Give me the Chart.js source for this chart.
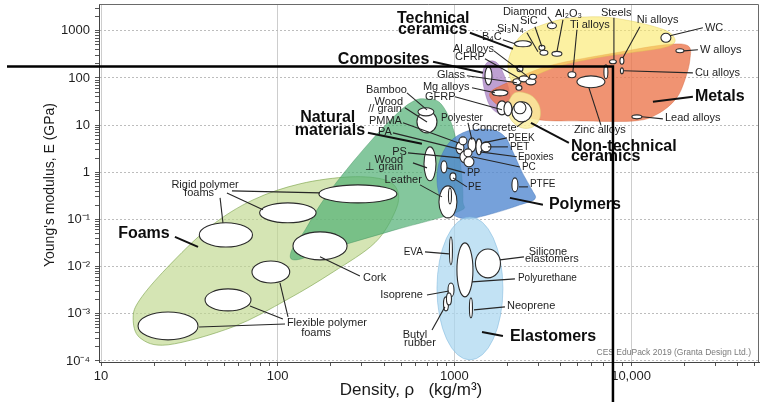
<!DOCTYPE html>
<html>
<head>
<meta charset="utf-8">
<title>Young's modulus - density chart</title>
<script src="https://cdn.jsdelivr.net/npm/chart.js@4.4.1/dist/chart.umd.min.js"></script>
<style>
  html, body { margin: 0; padding: 0; background: #fff; }
  #wrap { position: relative; width: 776px; height: 402px; }
</style>
</head>
<body>
<div id="wrap"><canvas id="chart"></canvas></div>
<script>
// axis ranges and tick labels
const xMin = 9.74, xMax = 53000;        // density, kg/m3
const yMin = 9.5e-5, yMax = 3700;       // Young's modulus, GPa
const xTickValues = [10, 100, 1000, 10000];
const xTickLabels = ['10', '100', '1000', '10,000'];
const yTickValues = [1e-4, 1e-3, 1e-2, 1e-1, 1, 10, 100, 1000];
const yTickLabels = ['10⁻⁴', '10⁻³', '10⁻²', '10⁻¹', '1', '10', '100', '1000'];

// family envelopes, outline points [density, modulus]
const foamsEnvelope = [[15.2, 8.2e-4], [16.6, 3.1e-4], [24, 2.2e-4], [56, 5.3e-4], [113, 2.0e-3], [206, 7.7e-3],
  [355, 0.032], [461, 0.145], [479, 0.385], [405, 0.69], [257, 0.8], [134, 0.57], [72.5, 0.26], [41.4, 0.07],
  [23.6, 9.4e-3], [16.6, 2.0e-3]];
const naturalEnvelope = [[682, 36], [829, 29.7], [969, 10.1], [1075, 1.84], [1118, 0.26], [1048, 0.145], [461, 0.06],
  [198, 0.0237], [127, 0.0139], [119, 0.0205], [143, 0.06], [174, 0.204], [225, 0.76], [333, 4.4], [479, 18.2], [591, 32.7]];
const polymersEnvelope = [[1194, 7.56], [1632, 7.94], [1933, 5.64], [2145, 2.71], [2413, 1.02], [2748, 0.424],
  [2858, 0.273], [2350, 0.204], [1697, 0.138], [1194, 0.103], [969, 0.131], [840, 0.26], [797, 0.69], [829, 1.84], [944, 4.42]];
const elastomersRange = [797, 1883, 1.05e-4, 0.113];
const compositesEnvelope = [[1549, 220], [1742, 210], [1908, 117], [2063, 44], [2010, 21], [1811, 17.4], [1590, 25.6],
  [1470, 62], [1451, 135]];
const metalsEnvelope = [[1590, 48], [1933, 75], [3430, 181], [8210, 342], [15550, 505], [20980, 481], [21540, 243],
  [20170, 91], [17950, 36], [14200, 17.4], [10520, 12.3], [5136, 12.3], [3050, 12.9], [2063, 19.1], [1697, 29.7]];
const techCeramicsEnvelope = [[2010, 164], [2117, 395], [2413, 823], [3050, 1277], [4225, 1797], [6665, 1982],
  [9854, 1630], [13650, 1216], [16600, 907], [17710, 585], [15150, 436], [9854, 342], [6410, 268], [3958, 181],
  [2678, 101], [2202, 72]];
const nonTechCeramicsEnvelope = [[2202, 48.4], [2678, 43.9], [3010, 26.9], [3050, 14.3], [2784, 9.2], [2413, 8.75],
  [2117, 12.3], [1985, 23.3]];

// materials: [name, density low, density high, modulus low, modulus high]
const foamMaterials = [
  ['Rigid polymer foam', 36, 72, 0.026, 0.085],
  ['Rigid polymer foam', 79, 165, 0.085, 0.225],
  ['Rigid polymer foam', 171, 473, 0.225, 0.54],
  ['Cork', 122, 247, 0.0139, 0.0545],
  ['Flexible polymer foam', 71.5, 117, 0.0045, 0.0132],
  ['Flexible polymer foam', 38.8, 70.6, 0.00115, 0.00337],
  ['Flexible polymer foam', 16.2, 35.4, 2.8e-4, 1.09e-3]
];
const naturalMaterials = [
  ['Wood // grain', 614, 797, 6.86, 20.1],
  ['Bamboo', 622, 766, 15.7, 23.3],
  ['Wood ⊥ grain', 673, 787, 0.66, 3.46],
  ['Leather', 818, 1034, 0.108, 0.515],
  ['Leather', 926, 963, 0.214, 0.467]
];
const polymerMaterials = [
  ['PMMA', 1021, 1133, 2.46, 4.42],
  ['PA', 1075, 1225, 1.59, 2.85],
  ['PS', 1133, 1291, 1.30, 2.13],
  ['Polyester', 1194, 1325, 2.71, 5.37],
  ['PEEK', 1325, 1433, 2.34, 5.12],
  ['PET', 1414, 1611, 2.71, 4.42],
  ['Epoxies', 1062, 1178, 3.82, 5.64],
  ['PC', 1133, 1258, 2.13, 3.14],
  ['PP', 840, 908, 0.97, 1.75],
  ['PE', 944, 1021, 0.66, 0.97],
  ['PTFE', 2117, 2289, 0.385, 0.76]
];
const elastomerMaterials = [
  ['EVA', 938, 975, 0.0109, 0.0427],
  ['Polyurethane', 1034, 1274, 0.00228, 0.0318],
  ['Silicone elastomers', 1316, 1823, 0.00576, 0.0237],
  ['Isoprene', 920, 995, 0.00228, 0.00451],
  ['Butyl rubber', 868, 926, 0.00115, 0.00228],
  ['Butyl rubber', 902, 963, 0.00154, 0.00277],
  ['Neoprene', 1217, 1266, 8.2e-4, 0.00217]
];
const ceramicMetalMaterials = [
  ['Glass', 1490, 1632, 71.5, 172],
  ['Al alloys', 2145, 2382, 71.5, 95.9],
  ['CFRP', 2320, 2642, 82.8, 111],
  ['Al alloys', 2542, 2895, 71.5, 95.9],
  ['CFRP', 2660, 2914, 93.6, 119.5],
  ['Al alloys', 2231, 2413, 54.7, 69.8],
  ['CFRP', 2260, 2445, 135, 181],
  ['Mg alloys', 1632, 2010, 41.8, 56],
  ['GFRP', 1742, 1985, 16.5, 32.7],
  ['GFRP', 1908, 2117, 15.7, 31.2],
  ['Concrete', 2117, 2748, 11.7, 31.2],
  ['Concrete', 2174, 2542, 17.4, 31.2],
  ['B4C', 2188, 2731, 458, 614],
  ['SiC', 3010, 3255, 386, 493],
  ['Si3N4', 3050, 3385, 302, 386],
  ['Diamond', 3363, 3782, 1103, 1478],
  ['Al2O3', 3565, 4062, 288, 367],
  ['Ti alloys', 4393, 4875, 101, 135],
  ['Zinc alloys', 4940, 7114, 61.8, 111],
  ['Steels', 7022, 7397, 95.9, 190],
  ['Steels', 7543, 8265, 200, 243],
  ['Ni alloys', 8650, 9114, 195, 274],
  ['Cu alloys', 8708, 9056, 122, 164],
  ['WC', 14760, 16810, 570, 885],
  ['W alloys', 17950, 19920, 342, 415],
  ['Lead alloys', 10110, 11520, 13.6, 16.5]
];

// labels: [text, density, modulus, align]
const familyLabels = [
  ['Technical', 473, 1800, 'left'], ['ceramics', 479, 1050, 'left'],
  ['Composites', 219, 243, 'left'],
  ['Natural', 134, 14.3, 'left'], ['materials', 125, 7.56, 'left'],
  ['Foams', 12.5, 0.0494, 'left'],
  ['Polymers', 3430, 0.204, 'left'],
  ['Elastomers', 2063, 3.23e-4, 'left'],
  ['Metals', 22980, 39.8, 'left'],
  ['Non-technical', 4567, 3.46, 'left'], ['ceramics', 4567, 2.13, 'left']
];
const materialLabels = [
  ['Rigid polymer', 38.8, 0.541, 'center'], ['foams', 35.9, 0.366, 'center'],
  ['Cork', 304, 0.00576, 'left'],
  ['Flexible polymer', 190, 6.39e-4, 'center'], ['foams', 165, 3.92e-4, 'center'],
  ['Bamboo', 316, 56, 'left'],
  ['Wood', 512, 31.2, 'right'], ['// grain', 505, 22.2, 'right'],
  ['PMMA', 505, 12.3, 'right'], ['PA', 443, 7.2, 'right'], ['PS', 539, 2.71, 'right'],
  ['Wood', 512, 1.84, 'right'], ['⊥ grain', 512, 1.30, 'right'],
  ['Leather', 655, 0.69, 'right'],
  ['Concrete', 1258, 8.75, 'left'],
  ['Silicone', 3385, 0.0205, 'center'], ['elastomers', 3565, 0.0146, 'center'],
  ['Isoprene', 664, 0.00251, 'right'], ['Neoprene', 1985, 0.00147, 'left'],
  ['Butyl', 598, 3.56e-4, 'center'], ['rubber', 639, 2.41e-4, 'center'],
  ['Diamond', 1883, 2530, 'left'], ['SiC', 2350, 1630, 'left'], ['Si₃N₄', 1742, 1100, 'left'],
  ['B₄C', 1433, 746, 'left'], ['Al₂O₃', 3708, 2290, 'left'], ['Ti alloys', 4508, 1341, 'left'],
  ['Al alloys', 982, 415, 'left'], ['CFRP', 1008, 281, 'left'], ['Glass', 797, 117, 'left'],
  ['Mg alloys', 664, 64.9, 'left'], ['GFRP', 682, 39.8, 'left'],
  ['Steels', 6750, 2410, 'left'], ['Ni alloys', 10790, 1711, 'left'], ['WC', 26180, 1158, 'left'],
  ['W alloys', 24530, 395, 'left'], ['Cu alloys', 22980, 128.5, 'left'],
  ['Lead alloys', 15550, 14.3, 'left'], ['Zinc alloys', 4749, 7.94, 'left']
];
const polymerLabels = [
  ['Polyester', 1104, 14.3, 'center'], ['PEEK', 2010, 5.37, 'left'], ['PET', 2063, 3.46, 'left'],
  ['Epoxies', 2289, 2.13, 'left'], ['PC', 2413, 1.30, 'left'], ['PP', 1178, 0.97, 'left'],
  ['PE', 1194, 0.49, 'left'], ['PTFE', 2678, 0.568, 'left'], ['EVA', 664, 0.0205, 'right'],
  ['Polyurethane', 2289, 0.00576, 'left']
];

// leader lines: [density 1, modulus 1, density 2, modulus 2]
const familyLeaders = [
  [26.2, 0.0427, 35.4, 0.0262], [324, 6.86, 655, 4.01], [2063, 0.287, 3172, 0.204],
  [1433, 4.12e-4, 1883, 3.39e-4], [1225, 907, 2145, 415], [757, 220, 1451, 128.5],
  [22390, 39.8, 13300, 31.2], [4450, 4.21, 2713, 11.2]
];
const materialLeaders = [
  [55.1, 0.404, 173.5, 0.366], [51.6, 0.366, 82.6, 0.16], [47.2, 0.287, 49.0, 0.0846],
  [173.5, 0.0161, 292, 0.00635], [114.4, 8.57e-4, 103, 4.51e-3], [107, 7.77e-4, 69.7, 1.47e-3],
  [110, 6.09e-4, 35.9, 5.26e-4],
  [539, 48.4, 700, 21.1], [525, 23.3, 700, 11.7], [512, 11.2, 1048, 4.21], [449, 6.86, 1104, 2.99],
  [546, 2.58, 1075, 2.02], [583, 1.585, 700, 1.24], [639, 0.541, 850, 0.301],
  [1194, 11.2, 1258, 4.87], [2260, 9.19, 2508, 12.3], [1985, 5.37, 1451, 4.21], [2010, 3.46, 1549, 3.46],
  [2260, 2.13, 1396, 2.71], [2350, 1.30, 1258, 2.13], [1148, 0.972, 908, 1.24], [1178, 0.491, 982, 0.762],
  [2609, 0.491, 2320, 0.491],
  [682, 0.0205, 932, 0.0186], [2476, 0.0161, 1811, 0.0139], [2202, 0.00549, 1258, 0.00474],
  [700, 0.00251, 932, 0.00305], [1933, 0.0014, 1291, 0.00121], [747, 4.54e-4, 884, 0.0014],
  [3385, 1982, 3613, 1408], [2858, 1216, 3131, 458], [2575, 907, 2972, 358], [1883, 644, 2202, 530],
  [4117, 1711, 3806, 358], [4940, 1050, 4688, 135], [1675, 376, 2575, 111], [1490, 255, 2350, 95.9],
  [1178, 111, 2260, 78.9], [1258, 61.8, 1697, 48.4], [1008, 39.8, 1859, 21.1],
  [8000, 1887, 8000, 243], [11230, 1216, 8995, 268], [25510, 1158, 16600, 783], [23900, 395, 19920, 376],
  [22390, 128.5, 9114, 141.8], [15150, 13.6, 11520, 15], [6750, 10.1, 5776, 61.8]
];

// hand-drawn marker lines on top of the chart
const markerDensity = 7900;
const markerModulus = 175;

Chart.defaults.font.family = '"Liberation Sans", Arial, Helvetica, sans-serif';

const isDecade = v => Math.abs(Math.log10(v) - Math.round(Math.log10(v))) < 1e-9;

function logTickList(lo, hi) {
  const ticks = [];
  for (let e = Math.floor(Math.log10(lo)); e <= Math.ceil(Math.log10(hi)); e++) {
    for (let m = 1; m < 10; m++) {
      const v = Number(m + 'e' + e);
      if (v >= lo && v <= hi) ticks.push({ value: v, major: m === 1 });
    }
  }
  return ticks;
}

function tickLabel(values, labels, v) {
  const i = values.findIndex(t => Math.abs(t / v - 1) < 1e-6);
  return i < 0 ? '' : labels[i];
}

// closed smooth curve through the outline points (Catmull-Rom)
function tracePath(ctx, pts) {
  const n = pts.length;
  ctx.moveTo(pts[0][0], pts[0][1]);
  for (let i = 0; i < n; i++) {
    const p0 = pts[(i - 1 + n) % n], p1 = pts[i], p2 = pts[(i + 1) % n], p3 = pts[(i + 2) % n];
    ctx.bezierCurveTo(
      p1[0] + (p2[0] - p0[0]) / 6, p1[1] + (p2[1] - p0[1]) / 6,
      p2[0] - (p3[0] - p1[0]) / 6, p2[1] - (p3[1] - p1[1]) / 6,
      p2[0], p2[1]);
  }
  ctx.closePath();
}

function rangeEllipse(ctx, x, y, r) {
  const x1 = x.getPixelForValue(r[0]), x2 = x.getPixelForValue(r[1]);
  const y1 = y.getPixelForValue(r[2]), y2 = y.getPixelForValue(r[3]);
  ctx.ellipse((x1 + x2) / 2, (y1 + y2) / 2, Math.abs(x2 - x1) / 2, Math.abs(y2 - y1) / 2, 0, 0, Math.PI * 2);
}

const envelopeLayers = [
  { pts: foamsEnvelope, fill: 'rgba(190,215,140,0.65)', edge: 'rgba(120,160,70,0.6)' },
  { pts: naturalEnvelope, fill: 'rgba(80,175,115,0.7)', edge: 'rgba(60,140,90,0.4)' },
  { pts: polymersEnvelope, fill: 'rgba(80,135,208,0.78)', edge: 'rgba(60,110,180,0.4)' },
  { range: elastomersRange, fill: 'rgba(170,215,240,0.72)', edge: 'rgba(120,180,220,0.5)' },
  { pts: compositesEnvelope, fill: 'rgba(174,136,199,0.8)', edge: 'rgba(140,100,170,0.4)' },
  { pts: metalsEnvelope, fill: 'rgba(236,117,74,0.78)', edge: 'rgba(210,100,60,0.4)' },
  { pts: techCeramicsEnvelope, fill: 'rgba(250,232,100,0.6)', edge: 'rgba(220,200,80,0.4)' },
  { pts: nonTechCeramicsEnvelope, fill: 'rgba(250,238,160,0.85)', edge: 'rgba(220,205,110,0.5)' }
];

const ashbyLayer = {
  id: 'ashbyLayer',
  beforeDatasetsDraw(chart) {
    const { ctx, chartArea: a, scales: { x, y } } = chart;
    const px = v => x.getPixelForValue(v), py = v => y.getPixelForValue(v);
    ctx.save();
    ctx.beginPath();
    ctx.rect(a.left, a.top, a.right - a.left, a.bottom - a.top);
    ctx.clip();

    envelopeLayers.forEach(layer => {
      ctx.beginPath();
      if (layer.range) rangeEllipse(ctx, x, y, layer.range);
      else tracePath(ctx, layer.pts.map(p => [px(p[0]), py(p[1])]));
      ctx.fillStyle = layer.fill;
      ctx.fill();
      ctx.lineWidth = 1;
      ctx.strokeStyle = layer.edge;
      ctx.stroke();
    });

    [foamMaterials, naturalMaterials, polymerMaterials, elastomerMaterials, ceramicMetalMaterials].forEach(group => {
      group.forEach(m => {
        ctx.beginPath();
        rangeEllipse(ctx, x, y, m.slice(1));
        ctx.fillStyle = '#fff';
        ctx.fill();
        ctx.lineWidth = 1.1;
        ctx.strokeStyle = '#2b2b2b';
        ctx.stroke();
      });
    });

    const drawLeaders = (list, width, color) => {
      ctx.lineWidth = width;
      ctx.strokeStyle = color;
      list.forEach(l => {
        ctx.beginPath();
        ctx.moveTo(px(l[0]), py(l[1]));
        ctx.lineTo(px(l[2]), py(l[3]));
        ctx.stroke();
      });
    };
    drawLeaders(materialLeaders, 1.1, '#262626');
    drawLeaders(familyLeaders, 2, '#111');

    const drawLabels = (list, font, color) => {
      ctx.font = font;
      ctx.fillStyle = color;
      ctx.textBaseline = 'middle';
      list.forEach(l => {
        ctx.textAlign = l[3];
        ctx.fillText(l[0], px(l[1]), py(l[2]));
      });
    };
    drawLabels(materialLabels, '11px ' + Chart.defaults.font.family, '#1e1e1e');
    drawLabels(polymerLabels, '10px ' + Chart.defaults.font.family, '#1e1e1e');
    drawLabels(familyLabels, 'bold 16px ' + Chart.defaults.font.family, '#0d0d0d');
    ctx.restore();
  },
  afterDraw(chart) {
    const { ctx, chartArea: a, scales: { x, y } } = chart;
    const fam = Chart.defaults.font.family;
    ctx.save();
    // top and right frame
    ctx.strokeStyle = '#6a6a6a';
    ctx.lineWidth = 1;
    ctx.beginPath();
    ctx.moveTo(a.left, a.top + 0.5);
    ctx.lineTo(a.right - 0.5, a.top + 0.5);
    ctx.lineTo(a.right - 0.5, a.bottom);
    ctx.stroke();

    // credit line
    ctx.font = '8.5px ' + fam;
    ctx.fillStyle = '#7a7a7a';
    ctx.textAlign = 'right';
    ctx.textBaseline = 'middle';
    ctx.fillText('CES EduPack 2019 (Granta Design Ltd.)', a.right - 8, a.bottom - 9);

    // axis titles
    ctx.fillStyle = '#1a1a1a';
    ctx.font = '17px ' + fam;
    ctx.textAlign = 'center';
    ctx.fillText('Density, ρ   (kg/m³)', (a.left + a.right) / 2 - 18, a.bottom + 28);
    ctx.save();
    ctx.translate(a.left - 49, (a.top + a.bottom) / 2 + 2);
    ctx.rotate(-Math.PI / 2);
    ctx.font = '14px ' + fam;
    ctx.fillText("Young's modulus, E (GPa)", 0, 0);
    ctx.restore();

    // marker lines
    const mx = x.getPixelForValue(markerDensity), my = y.getPixelForValue(markerModulus);
    ctx.strokeStyle = '#000';
    ctx.lineWidth = 2.5;
    ctx.beginPath();
    ctx.moveTo(7, my);
    ctx.lineTo(mx, my);
    ctx.moveTo(mx, my - 1.2);
    ctx.lineTo(mx, chart.height);
    ctx.stroke();
    ctx.restore();
  }
};

new Chart(document.getElementById('chart'), {
  type: 'scatter',
  data: { datasets: [] },
  options: {
    responsive: true,
    maintainAspectRatio: false,
    animation: false,
    events: [],
    layout: { autoPadding: false, padding: { top: 4, right: 17, left: 0, bottom: 0 } },
    plugins: { legend: { display: false }, tooltip: { enabled: false } },
    scales: {
      x: {
        type: 'logarithmic',
        min: xMin,
        max: xMax,
        afterBuildTicks: s => { s.ticks = logTickList(xMin, xMax); },
        afterFit: s => { s.height = 40; s.paddingLeft = 0; s.paddingRight = 0; },
        ticks: {
          autoSkip: false, maxRotation: 0, padding: 3, color: '#1e1e1e', font: { size: 13 },
          callback: v => tickLabel(xTickValues, xTickLabels, v)
        },
        grid: {
          color: c => (c.tick && isDecade(c.tick.value) ? '#cdcdcd' : 'rgba(0,0,0,0)'),
          tickColor: '#555', tickLength: 4, lineWidth: 1
        },
        border: { color: '#444', width: 1 }
      },
      y: {
        type: 'logarithmic',
        min: yMin,
        max: yMax,
        afterBuildTicks: s => { s.ticks = logTickList(yMin, yMax); },
        afterFit: s => { s.width = 99; s.paddingTop = 0; s.paddingBottom = 0; },
        ticks: {
          autoSkip: false, padding: 5, color: '#1e1e1e', font: { size: 13 },
          callback: v => tickLabel(yTickValues, yTickLabels, v)
        },
        grid: {
          color: c => (c.tick && isDecade(c.tick.value) ? '#bdbdbd' : 'rgba(0,0,0,0)'),
          tickColor: '#555', tickLength: 4, lineWidth: 1
        },
        border: { color: '#444', width: 1, dash: [2, 2] }
      }
    }
  },
  plugins: [ashbyLayer]
});
</script>
</body>
</html>
